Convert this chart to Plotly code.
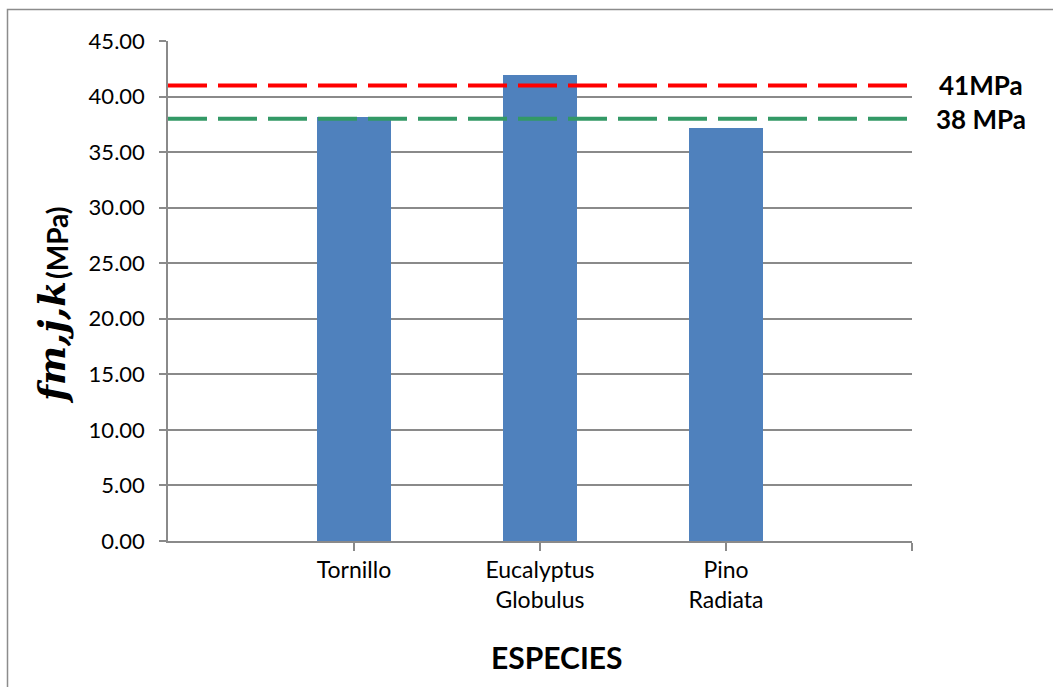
import plotly.graph_objects as go

# Species and characteristic bending strength values (MPa)
species = ["Tornillo", "Eucalyptus<br>Globulus", "Pino<br>Radiata"]
positions = [1, 2, 3]
fmjk = [38.18, 41.92, 37.18]

# Reference strength classes
ref_values = [41, 38]
ref_labels = ["41MPa", "38 MPa"]
ref_colors = ["#FF0000", "#339966"]

y_ticks = [0, 5, 10, 15, 20, 25, 30, 35, 40, 45]

W, H = 1053, 687
L, R, T, B = 168, 141, 41, 146
pw, ph = W - L - R, H - T - B

font = "Lato, Open Sans, sans-serif"
grid = "#8A8A8A"


def px_x(px):
    return (px - L) / pw


def px_y(py):
    return (T + ph - py) / ph


fig = go.Figure()
fig.add_trace(go.Bar(
    x=positions, y=fmjk, width=0.4,
    marker=dict(color="#4F81BD", line=dict(width=0)),
    showlegend=False, hoverinfo="y",
))

shapes = []
annotations = []
for v, lab, col in zip(ref_values, ref_labels, ref_colors):
    shapes.append(dict(type="line", xref="x", yref="y", x0=0, x1=4, y0=v, y1=v,
                       line=dict(color=col, width=4, dash="39px,11px"), layer="above"))
    annotations.append(dict(text=f"<b>{lab}</b>", xref="paper", yref="y",
                            x=px_x(981), y=v, xanchor="center", yanchor="middle",
                            showarrow=False, font=dict(family=font, size=26, color="#000")))

# outer chart border
shapes.append(dict(type="rect", xref="paper", yref="paper",
                   x0=px_x(7.5), x1=px_x(1070), y0=px_y(700), y1=px_y(9.5),
                   line=dict(color="#8C8C8C", width=1.5), layer="below"))

annotations.append(dict(
    text="<b>ESPECIES</b>", xref="paper", yref="paper",
    x=px_x(557), y=px_y(657), xanchor="center", yanchor="middle",
    showarrow=False, font=dict(family=font, size=30, color="#000")))

# y-axis title: math symbol part and unit part
annotations.append(dict(
    text="<b><i>fm,j,k</i></b>", xref="paper", yref="paper",
    x=px_x(52), y=px_y(343), xanchor="center", yanchor="middle",
    textangle=-90, showarrow=False,
    font=dict(family="DejaVu Serif, serif", size=37, color="#000")))
annotations.append(dict(
    text="<b>(MPa)</b>", xref="paper", yref="paper",
    x=px_x(57), y=px_y(243), xanchor="center", yanchor="middle",
    textangle=-90, showarrow=False,
    font=dict(family=font, size=28, color="#000")))

fig.update_layout(
    width=W, height=H,
    margin=dict(l=L, r=R, t=T, b=B),
    paper_bgcolor="white", plot_bgcolor="white",
    font=dict(family=font, size=22, color="#000"),
    shapes=shapes, annotations=annotations,
    bargap=0,
)
fig.update_xaxes(
    range=[0, 4], tickvals=[1, 2, 3, 4], ticktext=species + [""],
    showgrid=False, zeroline=False, showline=True, linecolor=grid, linewidth=1.5,
    ticks="outside", ticklen=8, tickcolor=grid, tickwidth=1.5,
    tickfont=dict(family=font, size=23, color="#000"), fixedrange=True,
)
fig.update_yaxes(
    range=[0, 45], tickvals=y_ticks, tickformat=".2f",
    showgrid=True, gridcolor=grid, gridwidth=1.5, zeroline=False,
    showline=True, linecolor=grid, linewidth=1.5,
    ticks="outside", ticklen=7, tickcolor=grid, tickwidth=1.5,
    ticklabelstandoff=10,
    tickfont=dict(family=font, size=22, color="#000"), fixedrange=True,
)

fig.write_html("out.html", config={"displayModeBar": False})
